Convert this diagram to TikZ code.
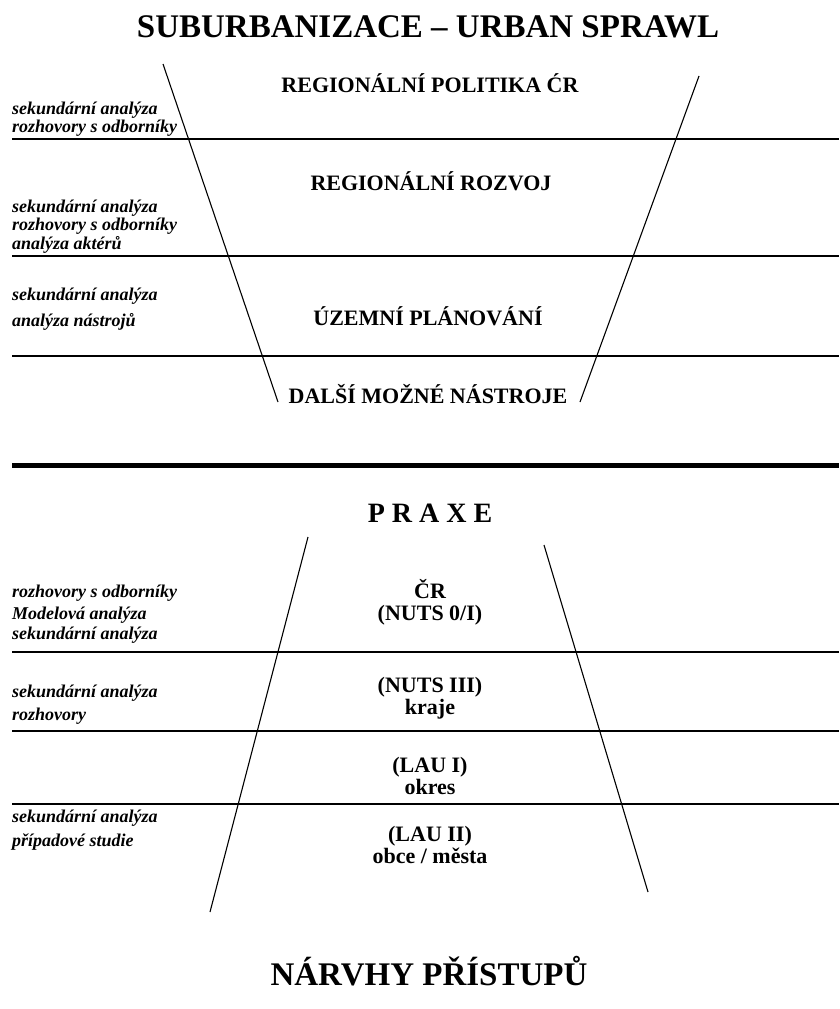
\documentclass[tikz,border=0pt]{standalone}
\usepackage{fontspec}
\setmainfont{Liberation Serif}
\begin{document}
\begin{tikzpicture}[x=1pt,y=-1pt,
  rule/.style={line width=1.1pt,black},
  thickrule/.style={line width=5pt,black},
  side/.style={line width=1.1pt,black},
  heading/.style={inner sep=0pt,anchor=base,font=\fontsize{33}{36}\selectfont\bfseries},
  level/.style={inner sep=0pt,anchor=base,font=\fontsize{22}{24}\selectfont\bfseries},
  method/.style={inner sep=0pt,anchor=base west,font=\fontsize{18}{20}\selectfont\bfseries\itshape}]
\useasboundingbox (0,0) rectangle (839,1009);

% ---- upper funnel: policy levels ----
\node[heading] (title) at (428,37) {SUBURBANIZACE -- URBAN SPRAWL};

\coordinate (tl1) at (163,64);  \coordinate (tl2) at (278,402);
\coordinate (tr1) at (699,76);  \coordinate (tr2) at (580,402);
\draw[side] (tl1) -- (tl2);
\draw[side] (tr1) -- (tr2);

\foreach \y/\n in {139/a,256/b,356/c}{
  \coordinate (ha\n) at (12,\y); \coordinate (hb\n) at (839,\y);
  \draw[rule] (ha\n) -- (hb\n);
}

\node[level] (rp) at (430,92) {REGIONÁLNÍ POLITIKA ĆR};
\node[level] (rr) at (431,190) {REGIONÁLNÍ ROZVOJ};
\node[level] (up) at (428,325) {ÚZEMNÍ PLÁNOVÁNÍ};
\node[level] (dn) at (428,403) {DALŠÍ MOŽNÉ NÁSTROJE};

\node[method] (m1a) at (12,114) {sekundární analýza};
\node[method] (m1b) at (12,132) {rozhovory s odborníky};
\node[method] (m2a) at (12,212) {sekundární analýza};
\node[method] (m2b) at (12,230) {rozhovory s odborníky};
\node[method] (m2c) at (12,249) {analýza aktérů};
\node[method] (m3a) at (12,300) {sekundární analýza};
\node[method] (m3b) at (12,326) {analýza nástrojů};

% ---- divider ----
\coordinate (d1) at (12,465); \coordinate (d2) at (839,465);
\draw[thickrule] (d1) -- (d2);

% ---- lower funnel: territorial levels ----
\node[inner sep=0pt,anchor=base,font=\fontsize{28}{30}\selectfont\bfseries] (praxe) at (430,522) {P R A X E};

\coordinate (bl1) at (308,537);  \coordinate (bl2) at (210,912);
\coordinate (br1) at (544,545);  \coordinate (br2) at (648,892);
\draw[side] (bl1) -- (bl2);
\draw[side] (br1) -- (br2);

\foreach \y/\n in {652/d,731/e,804/f}{
  \coordinate (ha\n) at (12,\y); \coordinate (hb\n) at (839,\y);
  \draw[rule] (ha\n) -- (hb\n);
}

\node[level] (cr)   at (430,598) {ČR};
\node[level] (nuts0) at (430,620) {(NUTS 0/I)};
\node[level] (nuts3) at (430,692) {(NUTS III)};
\node[level] (kraje) at (430,714) {kraje};
\node[level] (lau1) at (430,772) {(LAU I)};
\node[level] (okres) at (430,794) {okres};
\node[level] (lau2) at (430,841) {(LAU II)};
\node[level] (obce) at (430,863) {obce / města};

\node[method] (m4a) at (12,597) {rozhovory s odborníky};
\node[method] (m4b) at (12,619) {Modelová analýza};
\node[method] (m4c) at (12,639) {sekundární analýza};
\node[method] (m5a) at (12,697) {sekundární analýza};
\node[method] (m5b) at (12,720) {rozhovory};
\node[method] (m6a) at (12,822) {sekundární analýza};
\node[method] (m6b) at (12,846) {případové studie};

\node[heading] (navrhy) at (429,985) {NÁRVHY PŘÍSTUPŮ};
\end{tikzpicture}
\end{document}
